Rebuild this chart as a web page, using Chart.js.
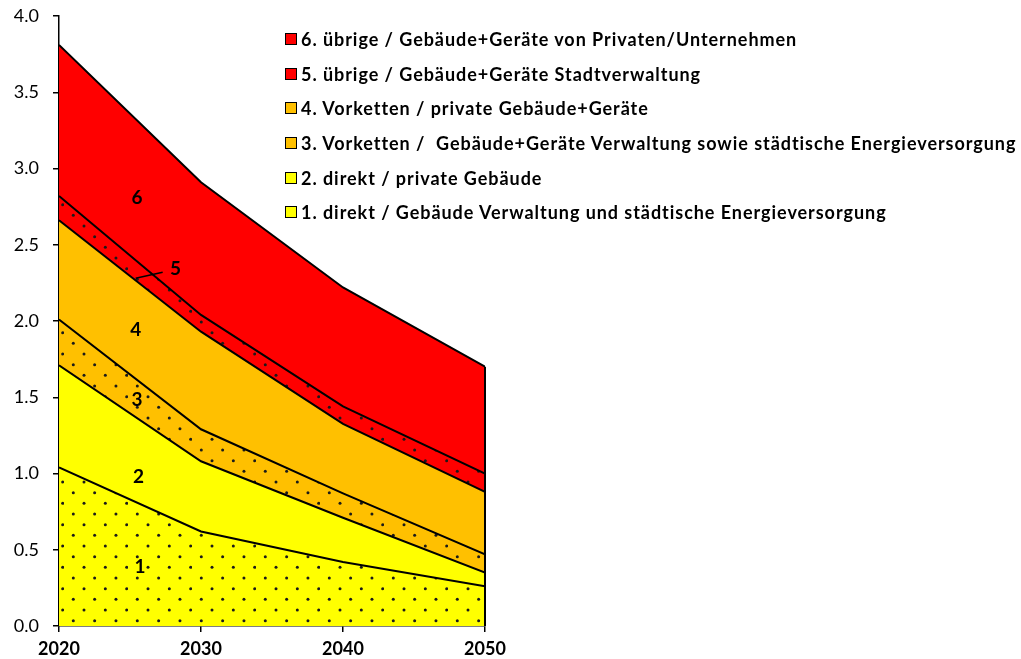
<!DOCTYPE html>
<html>
<head>
<meta charset="utf-8">
<script src="https://cdn.jsdelivr.net/npm/chart.js@4.4.0/dist/chart.umd.min.js"></script>
<style>
  body { margin: 0; background: #fff; }
  #wrap { position: relative; width: 1021px; height: 659px; }
  #legend { position: absolute; left: 285px; top: 22px; font: bold 18px Lato, sans-serif; letter-spacing: 0.95px; color: #000; }
  .item { display: flex; align-items: center; height: 34.6px; white-space: pre; }
  .box { width: 10px; height: 10px; border: 1px solid #000; margin-right: 4px; }
</style>
</head>
<body>
<div id="wrap">
  <canvas id="chart" width="1021" height="659"></canvas>
  <div id="legend"></div>
</div>
<script>
// years on the x axis
const years = [2020, 2030, 2040, 2050];

// layer values (not cumulative)
const direktVerwaltung   = [1.04, 0.62, 0.42, 0.26];
const direktPrivat       = [0.67, 0.46, 0.29, 0.09];
const vorkettenVerwaltung = [0.30, 0.21, 0.16, 0.12];
const vorkettenPrivat    = [0.65, 0.64, 0.455, 0.41];
const uebrigeVerwaltung  = [0.16, 0.11, 0.115, 0.12];
const uebrigePrivat      = [0.99, 0.87, 0.78, 0.70];

const seriesNames = [
  "1. direkt / Gebäude Verwaltung und städtische Energieversorgung",
  "2. direkt / private Gebäude",
  "3. Vorketten /  Gebäude+Geräte Verwaltung sowie städtische Energieversorgung",
  "4. Vorketten / private Gebäude+Geräte",
  "5. übrige / Gebäude+Geräte Stadtverwaltung",
  "6. übrige / Gebäude+Geräte von Privaten/Unternehmen"
];
const seriesValues = [direktVerwaltung, direktPrivat, vorkettenVerwaltung, vorkettenPrivat, uebrigeVerwaltung, uebrigePrivat];

const yTicks = [0, 0.5, 1.0, 1.5, 2.0, 2.5, 3.0, 3.5, 4.0];

// layer numbers written inside the areas (data coordinates)
const layerLabels = ["1", "2", "3", "4", "5", "6"];
const layerLabelX = [2025.7, 2025.6, 2025.5, 2025.4, 2028.2, 2025.5];
const layerLabelY = [0.39, 0.98, 1.48, 1.94, 2.34, 2.81];


// ------------------------------
// COLOURS / PATTERNS
// ------------------------------

const YELLOW = "#FFFF00";
const ORANGE = "#FFC000";
const RED = "#FF0000";

function dotPattern(color) {
  const size = 64;
  const step = size / 3;
  const c = document.createElement("canvas");
  c.width = size;
  c.height = size;
  const g = c.getContext("2d");
  g.fillStyle = color;
  g.fillRect(0, 0, size, size);
  g.fillStyle = "#1a1a1a";
  for (let i = 0; i < 3; i++) {
    for (let j = 0; j < 3; j++) {
      [[20, 12.7], [9.3, 2]].forEach(([ox, oy]) => {
        g.beginPath();
        g.arc((ox + i * step) % size, (oy + j * step) % size, 1.5, 0, Math.PI * 2);
        g.fill();
      });
    }
  }
  return g.createPattern(c, "repeat");
}

const ctx = document.getElementById("chart").getContext("2d");

const fills = [dotPattern(YELLOW), YELLOW, dotPattern(ORANGE), ORANGE, dotPattern(RED), RED];
const legendColors = [YELLOW, YELLOW, ORANGE, ORANGE, RED, RED];


// ------------------------------
// EXTRA DRAWING (right edge, layer numbers)
// ------------------------------

const extrasPlugin = {
  id: "extras",
  afterDatasetsDraw(chart) {
    const g = chart.ctx;
    const xs = chart.scales.x;
    const ys = chart.scales.y;

    // right outline of the stacked area
    const last = years.length - 1;
    const top = seriesValues.reduce((s, arr) => s + arr[last], 0);
    g.save();
    g.strokeStyle = "#000";
    g.lineWidth = 2;
    g.beginPath();
    g.moveTo(xs.getPixelForValue(years[last]), ys.getPixelForValue(0));
    g.lineTo(xs.getPixelForValue(years[last]), ys.getPixelForValue(top));
    g.stroke();

    // leader line for "5"
    g.lineWidth = 1.5;
    g.beginPath();
    g.moveTo(xs.getPixelForValue(2025.4), ys.getPixelForValue(2.28));
    g.lineTo(xs.getPixelForValue(2027.3), ys.getPixelForValue(2.32));
    g.stroke();

    g.fillStyle = "#000";
    g.font = "bold 19px Lato";
    g.textAlign = "center";
    g.textBaseline = "middle";
    layerLabels.forEach((t, i) => {
      g.fillText(t, xs.getPixelForValue(layerLabelX[i]), ys.getPixelForValue(layerLabelY[i]));
    });
    g.restore();
  }
};


// ------------------------------
// CHART
// ------------------------------

new Chart(ctx, {
  type: "line",
  data: {
    datasets: seriesValues.map((arr, i) => ({
      label: seriesNames[i],
      data: years.map((yr, k) => ({ x: yr, y: arr[k] })),
      backgroundColor: fills[i],
      borderColor: "#000",
      borderWidth: 2,
      fill: i === 0 ? "origin" : "-1",
      pointRadius: 0,
      tension: 0
    }))
  },
  options: {
    responsive: false,
    animation: false,
    layout: { padding: { left: 0, top: 16, right: 536, bottom: 0 } },
    plugins: {
      legend: { display: false },
      tooltip: { enabled: false }
    },
    scales: {
      x: {
        type: "linear",
        min: years[0],
        max: years[years.length - 1],
        afterBuildTicks: s => { s.ticks = years.map(v => ({ value: v })); },
        afterFit: s => {
          s.height = 33;
          s.paddingLeft = 0;
          s.paddingRight = 0;
        },
        ticks: {
          color: "#000",
          font: { family: "Lato", size: 18, weight: "bold" },
          padding: 6,
          callback: v => String(v)
        },
        grid: { drawOnChartArea: false, drawTicks: true, tickLength: 6, color: "#000", lineWidth: 1.5 },
        border: { display: true, color: "#000", width: 1.5 }
      },
      y: {
        stacked: true,
        min: 0,
        max: 4,
        afterBuildTicks: s => { s.ticks = yTicks.map(v => ({ value: v })); },
        afterFit: s => {
          s.width = 59;
          s.paddingTop = 0;
          s.paddingBottom = 0;
        },
        ticks: {
          color: "#000",
          font: { family: "Lato", size: 18 },
          padding: 14,
          callback: v => v.toFixed(1)
        },
        grid: { drawOnChartArea: false, drawTicks: true, tickLength: 6, color: "#000", lineWidth: 1.5 },
        border: { display: true, color: "#000", width: 1.5 }
      }
    }
  },
  plugins: [extrasPlugin]
});


// ------------------------------
// LEGEND (top item = last series)
// ------------------------------

const legend = document.getElementById("legend");
for (let i = seriesNames.length - 1; i >= 0; i--) {
  const row = document.createElement("div");
  row.className = "item";
  const box = document.createElement("div");
  box.className = "box";
  box.style.background = legendColors[i];
  const txt = document.createElement("span");
  txt.textContent = seriesNames[i];
  row.appendChild(box);
  row.appendChild(txt);
  legend.appendChild(row);
}
</script>
</body>
</html>
